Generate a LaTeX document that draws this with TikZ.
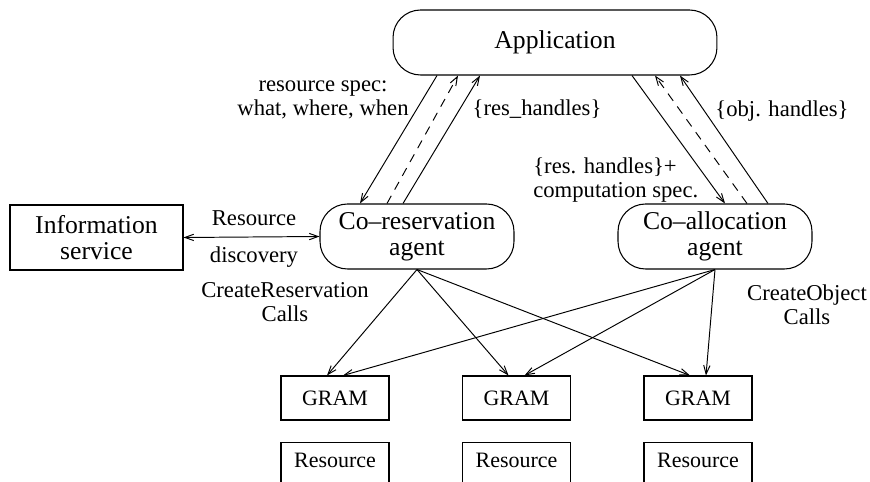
\documentclass[tikz,border=0pt]{standalone}
\usepackage{fontspec}
\setmainfont{Liberation Serif}
\usepackage{tikz}
\usetikzlibrary{arrows.meta}

\tikzset{
	agent/.style={draw, line width=0.6pt, rounded corners=0.55cm, minimum width=3.88cm,
		minimum height=1.3cm, align=center, inner sep=0pt,
		font=\fontsize{14.6}{14.6}\selectfont},
	infobox/.style={draw, line width=0.6pt, minimum width=3.46cm, minimum height=1.3cm,
		align=center, inner sep=0pt, font=\fontsize{14.6}{15}\selectfont},
	grambox/.style={draw, line width=0.6pt, minimum width=2.16cm, minimum height=0.88cm,
		inner sep=0pt, font=\fontsize{12.5}{14}\selectfont},
	lbl/.style={inner sep=0pt, align=center, font=\fontsize{12.9}{13.5}\selectfont},
	msg/.style={->, line width=0.55pt},
	reply/.style={->, line width=0.55pt, dash pattern=on 5pt off 4pt}
}

\begin{document}
\begin{tikzpicture}[x=0.02cm, y=-0.02cm, >={Straight Barb[length=5pt,width=3.6pt]}]
	\useasboundingbox (0,0) rectangle (870,482);
	
	% boxes
	\node[agent, minimum width=6.48cm] (app) at (555,42.5) {Application};
	\node[agent] (cores) at (417,236.5) {Co--reservation\\agent};
	\node[agent] (coalloc) at (715,236.5) {Co--allocation\\agent};
	\node[infobox] (info) at (96.5,237.5) {Information\\service};
	\foreach \x/\n in {335/1, 516.5/2, 698/3} {
		\node[grambox] (gram\n) at (\x,398) {GRAM};
		\node[grambox, anchor=north, minimum height=0pt, inner ysep=0.22cm,
			text depth=1cm] (res\n) at (\x,442) {Resource};
	}
	
	% application <-> agents
	\draw[msg] ([xshift=-2.36cm]app.south) -- ([xshift=-1.14cm]cores.north);
	\draw[reply] ([xshift=-0.6cm]cores.north) -- ([xshift=-1.94cm]app.south);
	\draw[msg] ([xshift=-0.28cm]cores.north) -- ([xshift=-1.5cm]app.south);
	\draw[msg] ([xshift=1.54cm]app.south) -- ([xshift=0.2cm]coalloc.north);
	\draw[reply] ([xshift=0.64cm]coalloc.north) -- ([xshift=2cm]app.south);
	\draw[msg] ([xshift=1.06cm]coalloc.north) -- ([xshift=2.5cm]app.south);
	
	\draw[<->, line width=0.55pt] (info.east) -- (cores.west);
	
	% agents -> GRAMs
	\foreach \n in {1,2,3} {
		\draw[msg] (cores.south) -- ([xshift=-0.16cm]gram\n.north);
		\draw[msg] (coalloc.south) -- ([xshift=0.16cm]gram\n.north);
	}
	
	% labels
	\node[lbl] (spec) at (323,100) {resource spec:\\what, where, when};
	\node[lbl] (reshdl) at (537,109) {\{res\_handles\}};
	\node[lbl, anchor=west, align=left] (comp) at (533,180) {\{res. handles\}+\\computation spec.};
	\node[lbl] (objhdl) at (782,111) {\{obj. handles\}};
	\node[lbl] (disc1) at (254,218) {Resource};
	\node[lbl] (disc2) at (254,257) {discovery};
	\node[lbl] (crres) at (285,302) {CreateReservation\\Calls};
	\node[lbl] (crobj) at (807,305) {CreateObject\\Calls};
\end{tikzpicture}
\end{document}
